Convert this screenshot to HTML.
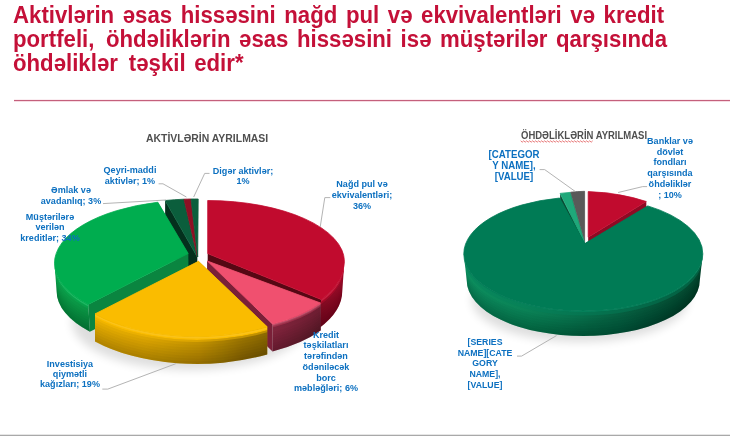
<!DOCTYPE html>
<html lang="az">
<head>
<meta charset="utf-8">
<title>Aktivlərin və öhdəliklərin ayrılması</title>
<style>
html,body{margin:0;padding:0;}
body{width:730px;height:436px;position:relative;overflow:hidden;background:#fff;font-family:"Liberation Sans",sans-serif;}
#title{position:absolute;left:13px;top:2.8px;width:760px;margin:0;font-weight:bold;font-size:23px;line-height:24px;word-spacing:2.5px;transform:scaleX(0.9652);transform-origin:0 0;color:#c41038;white-space:nowrap;}
#rule{position:absolute;left:13.5px;top:100px;width:717px;height:1px;background:#c4607c;box-shadow:0 1px 0 #f7dbe3,0 -1px 0 #fbeef2;}
#bottom{position:absolute;left:0;top:434px;width:730px;height:2px;background:linear-gradient(#e6e6e6 0,#e6e6e6 50%,#a9a9a9 50%,#a9a9a9 100%);}
svg{position:absolute;left:0;top:0;}
.lbl{position:absolute;width:200px;font-weight:bold;color:#0c70c0;text-align:center;white-space:nowrap;transform-origin:50% 50%;}
.ct{position:absolute;font-weight:bold;color:#505050;white-space:nowrap;line-height:12px;transform-origin:0 50%;}
</style>
</head>
<body>
<h1 id="title">Aktivlərin əsas hissəsini nağd pul və ekvivalentləri və kredit<br>portfeli,<span style="margin-left:3px"> </span>öhdəliklərin əsas hissəsini isə müştərilər qarşısında<br>öhdəliklər<span style="margin-left:2.5px"> </span>təşkil edir*</h1>
<div id="rule"></div>
<svg width="730" height="436" viewBox="0 0 730 436">
<defs>
<linearGradient id="gs" gradientUnits="userSpaceOnUse" x1="54" y1="0" x2="100" y2="0"><stop offset="0" stop-color="#0a9c48"/><stop offset="0.5" stop-color="#0a9645"/><stop offset="1" stop-color="#0a8c40"/></linearGradient>
<linearGradient id="rs" gradientUnits="userSpaceOnUse" x1="318" y1="0" x2="345" y2="0"><stop offset="0" stop-color="#7c0a20"/><stop offset="0.6" stop-color="#8c0a24"/><stop offset="1" stop-color="#980a28"/></linearGradient>
<linearGradient id="ps" gradientUnits="userSpaceOnUse" x1="265" y1="0" x2="325" y2="0"><stop offset="0" stop-color="#84263e"/><stop offset="1" stop-color="#6a1c30"/></linearGradient>
<linearGradient id="ys" gradientUnits="userSpaceOnUse" x1="94" y1="0" x2="268" y2="0"><stop offset="0" stop-color="#e6ad00"/><stop offset="0.3" stop-color="#dca500"/><stop offset="0.6" stop-color="#c09000"/><stop offset="0.85" stop-color="#987200"/><stop offset="1" stop-color="#8a6800"/></linearGradient>
<linearGradient id="g2s" gradientUnits="userSpaceOnUse" x1="463" y1="0" x2="703" y2="0"><stop offset="0" stop-color="#0c8e5e"/><stop offset="0.25" stop-color="#0a8256"/><stop offset="0.5" stop-color="#076c49"/><stop offset="0.75" stop-color="#05563a"/><stop offset="1" stop-color="#03442c"/></linearGradient>
<filter id="bl" x="-20%" y="-50%" width="140%" height="200%"><feGaussianBlur stdDeviation="5"/></filter>
</defs>
<ellipse cx="190" cy="322" rx="118" ry="48" fill="#000" opacity="0.13" filter="url(#bl)"/>
<ellipse cx="580" cy="300" rx="108" ry="42" fill="#000" opacity="0.13" filter="url(#bl)"/>
<g><path d="M197.3 257L165.1 200.5L165.1 228.5L197.3 285Z" fill="#04301d"/>
<path d="M197.3 257L165.1 200.5A138.5 62 0 0 1 184 199.2Z" fill="#0b5e3c" stroke="#0b5e3c" stroke-width="0.8" stroke-linejoin="round"/></g>
<g><path d="M197.5 257L184 199.2A138.5 62 0 0 1 191 199Z" fill="#8e1024" stroke="#8e1024" stroke-width="0.8" stroke-linejoin="round"/></g>
<g><path d="M197.7 257L191 199A138.5 62 0 0 1 198.2 199Z" fill="#0b5e3c" stroke="#0b5e3c" stroke-width="0.8" stroke-linejoin="round"/></g>
<g><path d="M188.2 253.5L88.3 304.4L89.9 331.8L188.3 281.6Z" fill="#0a8540"/>
<path d="M188.2 253.5L157.8 202.2L158.3 231.1L188.3 281.6Z" fill="#0a8540"/>
<path d="M88.3 304.4A140 63.2 0 0 1 54.5 263.2L56.6 291.2A137.9 62.3 0 0 0 89.9 331.8Z" fill="url(#gs)"/>
<path d="M88.8 312.6A139.4 62.9 0 0 1 55.1 271.6L56.6 291.2A137.9 62.3 0 0 0 89.9 331.8Z" fill="#000" fill-opacity="0.03"/>
<path d="M88.9 315.3A139.2 62.8 0 0 1 55.3 274.4L56.6 291.2A137.9 62.3 0 0 0 89.9 331.8Z" fill="#000" fill-opacity="0.03"/>
<path d="M89.1 318.1A138.9 62.7 0 0 1 55.6 277.2L56.6 291.2A137.9 62.3 0 0 0 89.9 331.8Z" fill="#000" fill-opacity="0.03"/>
<path d="M89.3 320.8A138.7 62.6 0 0 1 55.8 280L56.6 291.2A137.9 62.3 0 0 0 89.9 331.8Z" fill="#000" fill-opacity="0.03"/>
<path d="M89.4 323.5A138.5 62.5 0 0 1 56 282.8L56.6 291.2A137.9 62.3 0 0 0 89.9 331.8Z" fill="#000" fill-opacity="0.035"/>
<path d="M89.6 326.3A138.3 62.4 0 0 1 56.2 285.6L56.6 291.2A137.9 62.3 0 0 0 89.9 331.8Z" fill="#000" fill-opacity="0.035"/>
<path d="M89.7 329A138.1 62.3 0 0 1 56.4 288.4L56.6 291.2A137.9 62.3 0 0 0 89.9 331.8Z" fill="#000" fill-opacity="0.035"/>
<path d="M88.3 304.4A140 63.2 0 0 1 54.5 263.2L54.7 266.2A139.8 63.1 0 0 0 88.5 307.3Z" fill="#08ae52"/>
<path d="M88.5 307.3A139.8 63.1 0 0 1 54.7 266.2L54.9 268.2A139.6 63 0 0 0 88.6 309.3Z" fill="#08ae52" fill-opacity="0.45"/>
<path d="M88.3 305A140 63.2 0 0 1 54.5 263.8L54.7 265.4A139.8 63.1 0 0 0 88.4 306.5Z" fill="#fff" fill-opacity="0.10"/>
<path d="M188.2 253.5L88.3 304.4A140 63.2 0 0 1 54.5 263.2A140 63.2 0 0 1 157.8 202.2Z" fill="#00ad4f" stroke="#00ad4f" stroke-width="0.8" stroke-linejoin="round"/></g>
<g><path d="M207.7 253.6L207.7 200.5L207.7 230.4L207.7 282.7Z" fill="#560814"/>
<path d="M207.7 253.6L321.2 299.5L319.4 327.9L207.7 282.7Z" fill="#560814"/>
<path d="M344.4 261.7A138.1 68 0 0 1 321.2 299.5L319.4 327.9A136 67 0 0 0 342.3 290.7Z" fill="url(#rs)"/>
<path d="M343.8 270.4A137.5 67.7 0 0 1 320.6 308L319.4 327.9A136 67 0 0 0 342.3 290.7Z" fill="#000" fill-opacity="0.03"/>
<path d="M343.6 273.3A137.3 67.6 0 0 1 320.5 310.8L319.4 327.9A136 67 0 0 0 342.3 290.7Z" fill="#000" fill-opacity="0.03"/>
<path d="M343.4 276.2A137.1 67.5 0 0 1 320.3 313.7L319.4 327.9A136 67 0 0 0 342.3 290.7Z" fill="#000" fill-opacity="0.03"/>
<path d="M343.2 279.1A136.9 67.4 0 0 1 320.1 316.5L319.4 327.9A136 67 0 0 0 342.3 290.7Z" fill="#000" fill-opacity="0.03"/>
<path d="M342.9 282A136.6 67.3 0 0 1 320 319.4L319.4 327.9A136 67 0 0 0 342.3 290.7Z" fill="#000" fill-opacity="0.035"/>
<path d="M342.7 284.9A136.4 67.2 0 0 1 319.8 322.2L319.4 327.9A136 67 0 0 0 342.3 290.7Z" fill="#000" fill-opacity="0.035"/>
<path d="M342.5 287.8A136.2 67.1 0 0 1 319.6 325L319.4 327.9A136 67 0 0 0 342.3 290.7Z" fill="#000" fill-opacity="0.035"/>
<path d="M344.4 261.7A138.1 68 0 0 1 321.2 299.5L321 302.4A137.9 67.9 0 0 0 344.2 264.7Z" fill="#c10b2e"/>
<path d="M344.2 264.7A137.9 67.9 0 0 1 321 302.4L320.9 304.4A137.7 67.8 0 0 0 344 266.7Z" fill="#c10b2e" fill-opacity="0.45"/>
<path d="M344.4 262.3A138.1 68 0 0 1 321.1 300L321 301.6A137.9 67.9 0 0 0 344.2 263.9Z" fill="#fff" fill-opacity="0.10"/>
<path d="M207.7 253.6L207.7 200.5A138.1 61.2 0 0 1 344.4 261.7A138.1 68 0 0 1 321.2 299.5Z" fill="#c10b2e" stroke="#c10b2e" stroke-width="0.8" stroke-linejoin="round"/></g>
<g><path d="M207.3 261L320.6 303L320.6 330.5L207.3 288.5Z" fill="#7a2038"/>
<path d="M207.3 261L272.5 324L272.5 351.5L207.3 288.5Z" fill="#7a2038"/>
<path d="M320.6 303A138.5 62 0 0 1 272.5 324L272.5 351.5A138.5 62 0 0 0 320.6 330.5Z" fill="url(#ps)"/>
<path d="M320.6 311.2A138.5 62 0 0 1 272.5 332.2L272.5 351.5A138.5 62 0 0 0 320.6 330.5Z" fill="#000" fill-opacity="0.03"/>
<path d="M320.6 314A138.5 62 0 0 1 272.5 335L272.5 351.5A138.5 62 0 0 0 320.6 330.5Z" fill="#000" fill-opacity="0.03"/>
<path d="M320.6 316.8A138.5 62 0 0 1 272.5 337.8L272.5 351.5A138.5 62 0 0 0 320.6 330.5Z" fill="#000" fill-opacity="0.03"/>
<path d="M320.6 319.5A138.5 62 0 0 1 272.5 340.5L272.5 351.5A138.5 62 0 0 0 320.6 330.5Z" fill="#000" fill-opacity="0.03"/>
<path d="M320.6 322.2A138.5 62 0 0 1 272.5 343.2L272.5 351.5A138.5 62 0 0 0 320.6 330.5Z" fill="#000" fill-opacity="0.035"/>
<path d="M320.6 325A138.5 62 0 0 1 272.5 346L272.5 351.5A138.5 62 0 0 0 320.6 330.5Z" fill="#000" fill-opacity="0.035"/>
<path d="M320.6 327.8A138.5 62 0 0 1 272.5 348.8L272.5 351.5A138.5 62 0 0 0 320.6 330.5Z" fill="#000" fill-opacity="0.035"/>
<path d="M320.6 303A138.5 62 0 0 1 272.5 324L272.5 325.5A138.5 62 0 0 0 320.6 304.5Z" fill="#c84060"/>
<path d="M320.6 304.5A138.5 62 0 0 1 272.5 325.5L272.5 327.5A138.5 62 0 0 0 320.6 306.5Z" fill="#c84060" fill-opacity="0.45"/>
<path d="M320.6 303.6A138.5 62 0 0 1 272.5 324.6L272.5 326.2A138.5 62 0 0 0 320.6 305.2Z" fill="#fff" fill-opacity="0.10"/>
<path d="M207.3 261L320.6 303A138.5 62 0 0 1 272.5 324Z" fill="#f0506f" stroke="#f0506f" stroke-width="0.8" stroke-linejoin="round"/></g>
<g><path d="M198.5 261.3L267.2 326.8L267.2 354.4L198.5 288.9Z" fill="#b88a00"/>
<path d="M198.5 261.3L95 313.9L95 341.5L198.5 288.9Z" fill="#b88a00"/>
<path d="M267.2 326.8A138.5 69.5 0 0 1 95 313.9L95 341.5A138.5 69.5 0 0 0 267.2 354.4Z" fill="url(#ys)"/>
<path d="M267.2 335.1A138.5 69.5 0 0 1 95 322.2L95 341.5A138.5 69.5 0 0 0 267.2 354.4Z" fill="#000" fill-opacity="0.03"/>
<path d="M267.2 337.8A138.5 69.5 0 0 1 95 324.9L95 341.5A138.5 69.5 0 0 0 267.2 354.4Z" fill="#000" fill-opacity="0.03"/>
<path d="M267.2 340.6A138.5 69.5 0 0 1 95 327.7L95 341.5A138.5 69.5 0 0 0 267.2 354.4Z" fill="#000" fill-opacity="0.03"/>
<path d="M267.2 343.4A138.5 69.5 0 0 1 95 330.5L95 341.5A138.5 69.5 0 0 0 267.2 354.4Z" fill="#000" fill-opacity="0.03"/>
<path d="M267.2 346.1A138.5 69.5 0 0 1 95 333.2L95 341.5A138.5 69.5 0 0 0 267.2 354.4Z" fill="#000" fill-opacity="0.035"/>
<path d="M267.2 348.9A138.5 69.5 0 0 1 95 336L95 341.5A138.5 69.5 0 0 0 267.2 354.4Z" fill="#000" fill-opacity="0.035"/>
<path d="M267.2 351.6A138.5 69.5 0 0 1 95 338.7L95 341.5A138.5 69.5 0 0 0 267.2 354.4Z" fill="#000" fill-opacity="0.035"/>
<path d="M267.2 326.8A138.5 69.5 0 0 1 95 313.9L95 317.4A138.5 69.5 0 0 0 267.2 330.3Z" fill="#fabc00"/>
<path d="M267.2 330.3A138.5 69.5 0 0 1 95 317.4L95 319.4A138.5 69.5 0 0 0 267.2 332.3Z" fill="#fabc00" fill-opacity="0.45"/>
<path d="M267.2 327.4A138.5 69.5 0 0 1 95 314.5L95 316.1A138.5 69.5 0 0 0 267.2 329Z" fill="#fff" fill-opacity="0.10"/>
<path d="M198.5 261.3L267.2 326.8A138.5 69.5 0 0 1 95 313.9Z" fill="#fabc00" stroke="#fabc00" stroke-width="0.8" stroke-linejoin="round"/></g>
<g transform="translate(0.8 0)"><path d="M587.4 237.2L587.4 191.6L587.4 216.6L587.4 262.2Z" fill="#8e0a24"/>
<path d="M587.4 237.2L645.5 201.5L645.5 226.5L587.4 262.2Z" fill="#8e0a24"/>
<path d="M587.4 237.2L587.4 191.6A119.5 57 0 0 1 645.5 201.5Z" fill="#c10b2e" stroke="#c10b2e" stroke-width="0.8" stroke-linejoin="round"/></g>
<g transform="translate(0.8 0)"><path d="M583.8 241.7L569.7 192.2L569.7 217.2L583.8 266.7Z" fill="#333"/>
<path d="M583.8 241.7L583.8 191.3L583.8 216.3L583.8 266.7Z" fill="#333"/>
<path d="M583.8 241.7L569.7 192.2A119.5 57 0 0 1 583.8 191.3Z" fill="#595959" stroke="#595959" stroke-width="0.8" stroke-linejoin="round"/></g>
<g transform="translate(0.8 0)"><path d="M583.4 241.9L559.3 193.4L559.3 218.4L583.4 266.9Z" fill="#0a4a34"/>
<path d="M583.4 241.9L569.2 192.4L569.2 217.4L583.4 266.9Z" fill="#0a4a34"/>
<path d="M583.4 241.9L559.3 193.4A119.5 57 0 0 1 569.2 192.4Z" fill="#1fa87a" stroke="#1fa87a" stroke-width="0.8" stroke-linejoin="round"/></g>
<g transform="translate(0.8 0)"><path d="M584 243.6L647 205.9L645.4 233.7L584 270.5Z" fill="#06603f"/>
<path d="M584 243.6L558.8 198L559.4 226L584 270.5Z" fill="#06603f"/>
<path d="M702 253.9A119.5 57 0 0 1 463 253.9L465.9 280.5A116.5 55.6 0 0 0 699 280.5Z" fill="url(#g2s)"/>
<path d="M701.1 261.9A118.6 56.6 0 0 1 463.9 261.9L465.9 280.5A116.5 55.6 0 0 0 699 280.5Z" fill="#000" fill-opacity="0.03"/>
<path d="M700.8 264.5A118.3 56.4 0 0 1 464.2 264.5L465.9 280.5A116.5 55.6 0 0 0 699 280.5Z" fill="#000" fill-opacity="0.03"/>
<path d="M700.5 267.2A118 56.3 0 0 1 464.5 267.2L465.9 280.5A116.5 55.6 0 0 0 699 280.5Z" fill="#000" fill-opacity="0.03"/>
<path d="M700.2 269.8A117.7 56.1 0 0 1 464.8 269.8L465.9 280.5A116.5 55.6 0 0 0 699 280.5Z" fill="#000" fill-opacity="0.03"/>
<path d="M699.9 272.5A117.4 56 0 0 1 465.1 272.5L465.9 280.5A116.5 55.6 0 0 0 699 280.5Z" fill="#000" fill-opacity="0.035"/>
<path d="M699.6 275.2A117.1 55.9 0 0 1 465.3 275.2L465.9 280.5A116.5 55.6 0 0 0 699 280.5Z" fill="#000" fill-opacity="0.035"/>
<path d="M699.3 277.8A116.8 55.7 0 0 1 465.6 277.8L465.9 280.5A116.5 55.6 0 0 0 699 280.5Z" fill="#000" fill-opacity="0.035"/>
<path d="M702 253.9A119.5 57 0 0 1 463 253.9L463.3 256.9A119.2 56.8 0 0 0 701.6 256.9Z" fill="#04805a"/>
<path d="M701.6 256.9A119.2 56.8 0 0 1 463.3 256.9L463.5 258.9A118.9 56.7 0 0 0 701.4 258.9Z" fill="#04805a" fill-opacity="0.45"/>
<path d="M701.9 254.5A119.4 57 0 0 1 463 254.5L463.2 256.1A119.3 56.9 0 0 0 701.7 256.1Z" fill="#fff" fill-opacity="0.10"/>
<path d="M584 243.6L647 205.9A119.5 57 0 0 1 702 253.9A119.5 57 0 0 1 463 253.9A119.5 57 0 0 1 558.8 198Z" fill="#007b55" stroke="#007b55" stroke-width="0.8" stroke-linejoin="round"/></g>
<g fill="none" stroke="#b4b4b4" stroke-width="1">
<path d="M158.6 183.8H163L186.4 197"/>
<path d="M103 203.6L166 200"/>
<path d="M209.5 173.4H204.7L193.7 197"/>
<path d="M330.3 197.6H324.8L320.2 227"/>
<path d="M102.3 389.1H107.8L175.8 363.7"/>
<path d="M647.1 186.6H642.7L618.1 192.5"/>
<path d="M539.6 169.6H544.7L575.3 191.5"/>
<path d="M517 356.1H521.6L556.5 335.6"/>
</g>
<path d="M520.7 140.8L522.2 142.2L523.7 140.8L525.2 142.2L526.7 140.8L528.2 142.2L529.7 140.8L531.2 142.2L532.7 140.8L534.2 142.2L535.7 140.8L537.2 142.2L538.7 140.8L540.2 142.2L541.7 140.8L543.2 142.2L544.7 140.8L546.2 142.2L547.7 140.8L549.2 142.2L550.7 140.8L552.2 142.2L553.7 140.8L555.2 142.2L556.7 140.8L558.2 142.2L559.7 140.8L561.2 142.2L562.7 140.8L564.2 142.2L565.7 140.8L567.2 142.2L568.7 140.8L570.2 142.2L571.7 140.8L573.2 142.2L574.7 140.8L576.2 142.2L577.7 140.8L579.2 142.2L580.7 140.8L582.2 142.2L583.7 140.8L585.2 142.2L586.7 140.8L588.2 142.2L589.7 140.8L591.2 142.2L592.7 140.8" fill="none" stroke="#e25a5a" stroke-width="0.8"/>
</svg>
<div class="ct" id="ct1" style="left:145.8px;top:132.4px;font-size:10.8px;transform:scaleX(0.967);">AKTİVLƏRİN AYRILMASI</div>
<div class="ct" id="ct2" style="left:520.7px;top:129.3px;font-size:10.6px;transform:scaleX(0.897);">ÖHDƏLİKLƏRİN AYRILMASI</div>
<div class="lbl" style="left:30.2px;top:165.20px;font-size:9.8px;line-height:10.4px;transform:scaleX(0.925)">Qeyri-maddi<br>aktivlər; 1%</div>
<div class="lbl" style="left:-28.7px;top:185.35px;font-size:9.8px;line-height:10.5px;transform:scaleX(0.925)">Əmlak və<br>avadanlıq; 3%</div>
<div class="lbl" style="left:-50.4px;top:211.58px;font-size:9.8px;line-height:10.65px;transform:scaleX(0.925)">Müştərilərə<br>verilən<br>kreditlər; 34%</div>
<div class="lbl" style="left:142.5px;top:165.75px;font-size:9.8px;line-height:10.1px;transform:scaleX(0.925)">Digər aktivlər;<br>1%</div>
<div class="lbl" style="left:262.3px;top:179.03px;font-size:9.8px;line-height:10.75px;transform:scaleX(0.925)">Nağd pul və<br>ekvivalentləri;<br>36%</div>
<div class="lbl" style="left:226.0px;top:329.75px;font-size:9.8px;line-height:10.7px;transform:scaleX(0.925)">Kredit<br>təşkilatları<br>tərəfindən<br>ödəniləcək<br>borc<br>məbləğləri; 6%</div>
<div class="lbl" style="left:-30.0px;top:358.58px;font-size:9.8px;line-height:10.45px;transform:scaleX(0.925)">Investisiya<br>qiymətli<br>kağızları; 19%</div>
<div class="lbl" style="left:570.2px;top:135.94px;font-size:9.8px;line-height:10.72px;transform:scaleX(0.925)">Banklar və<br>dövlət<br>fondları<br>qarşısında<br>öhdəliklər<br>; 10%</div>
<div class="lbl" style="left:414.0px;top:148.81px;font-size:10.3px;line-height:11.25px;transform:scaleX(0.94)">[CATEGOR<br>Y NAME],<br>[VALUE]</div>
<div class="lbl" style="left:385.0px;top:337.06px;font-size:9.5px;line-height:10.7px;transform:scaleX(0.92)">[SERIES<br>NAME][CATE<br>GORY<br>NAME],<br>[VALUE]</div>
<div id="bottom"></div>
</body>
</html>
